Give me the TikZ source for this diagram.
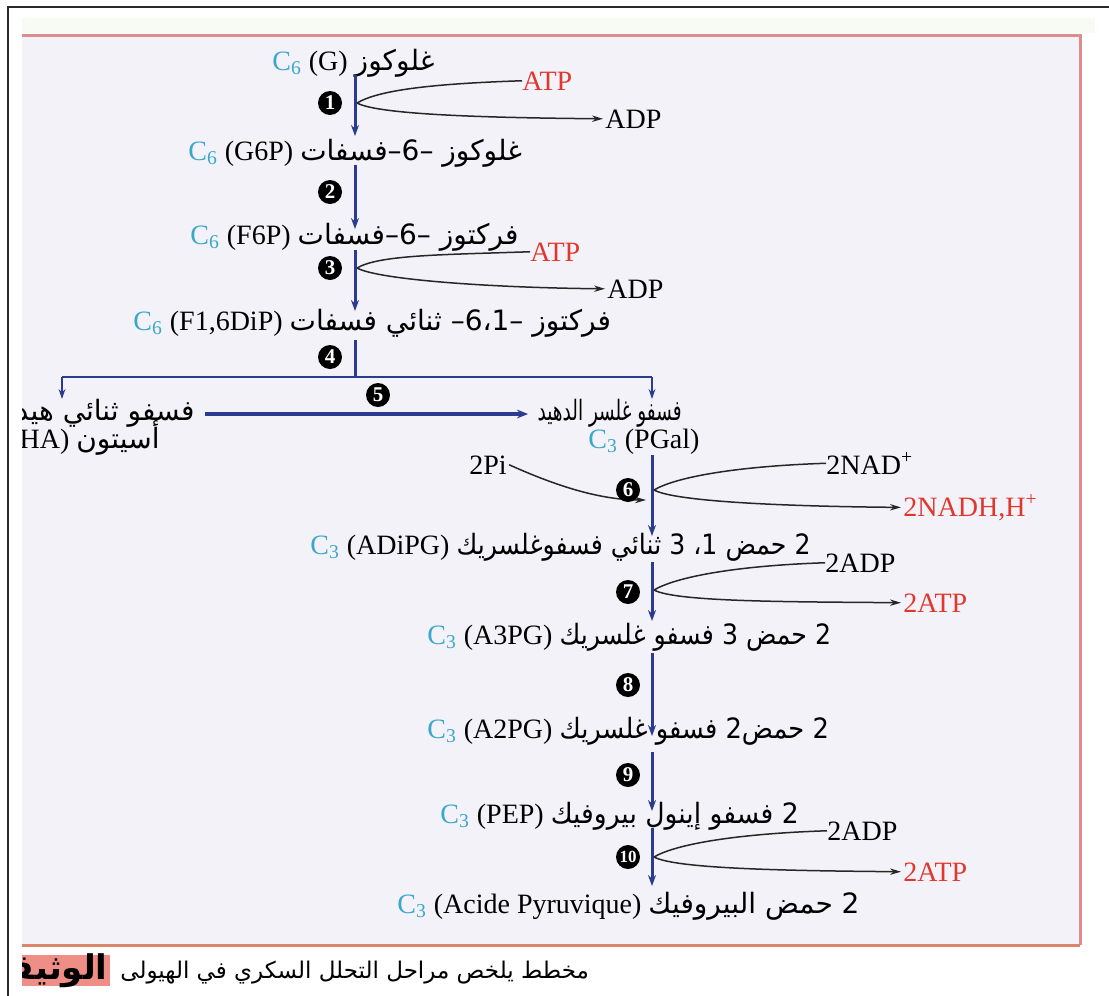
\documentclass[tikz,border=0pt]{standalone}
\usepackage{fontspec}
\usepackage{graphicx}
\setmainfont{Liberation Serif}
\newfontfamily\arabicfont[Script=Arabic]{DejaVu Sans}
\TeXXeTstate=1
\usetikzlibrary{arrows.meta}

\definecolor{panelbg}{HTML}{F3F2F8}
\definecolor{bandbg}{HTML}{F8FAF4}
\definecolor{edgerose}{HTML}{DE8E8A}
\definecolor{edgeorange}{HTML}{D9866A}
\definecolor{frameline}{HTML}{2A2A2A}
\definecolor{pathblue}{HTML}{2B3B8F}
\definecolor{carbcyan}{HTML}{3BA7CB}
\definecolor{energyred}{HTML}{E0372F}
\definecolor{capbox}{HTML}{EE8E86}

% Arabic run, optionally condensed horizontally
\newcommand{\artxt}[2][1]{\scalebox{#1}[1]{\arabicfont\fontsize{14}{16}\selectfont\beginR #2\endR}}
\newcommand{\carb}[1]{\textcolor{carbcyan}{C\textsubscript{#1}}}

\begin{document}
\begin{tikzpicture}[x=0.5pt,y=-0.5pt,
  txt/.style={inner sep=0pt, anchor=base west, font=\fontsize{14}{16}\selectfont},
  energy/.style={txt, text=energyred},
  stepno/.style={circle, fill=black, text=white, inner sep=0pt, minimum size=12pt,
                 font=\fontsize{10.5}{11}\selectfont\bfseries},
  flow/.style={draw=pathblue, line width=1.5pt, -{Stealth[length=5.5pt,width=4pt]}},
  flowline/.style={draw=pathblue, line width=1.5pt},
  branch/.style={draw=pathblue, line width=1pt, -{Stealth[length=5pt,width=3.4pt]}},
  sideline/.style={draw=black!85, line width=0.75pt},
  sidearrow/.style={sideline, -{Stealth[length=5.5pt,width=3.2pt]}},
]
\useasboundingbox (0,0) rectangle (1109,996);
\fill[white] (0,0) rectangle (1109,996);
\draw[frameline, line width=1pt] (8,996) -- (8,7) -- (1109,7);

\begin{scope}
\clip (22,0) rectangle (1109,996);
% panel
\fill[bandbg] (22,18) rectangle (1095,33);
\fill[panelbg] (0,35) rectangle (1080,945);
\draw[edgerose, line width=1.5pt] (0,35) -- (1080,35) -- (1080,945);
\draw[edgeorange, line width=1.5pt] (0,945) -- (1080,945);

% hexose stage
\node[txt] (glc) at (272,70) {\carb{6} (G) \artxt{غلوكوز}};
\node[txt] (g6p) at (188,160) {\carb{6} (G6P) \artxt{غلوكوز –6–فسفات}};
\node[txt] (f6p) at (190,244) {\carb{6} (F6P) \artxt{فركتوز –6–فسفات}};
\node[txt] (fbp) at (133,330) {\carb{6} (F1,6DiP) \artxt{فركتوز –6،1– ثنائي فسفات}};

\coordinate (s1a) at (355,75);  \coordinate (s1b) at (355,136);
\coordinate (s2a) at (355,165); \coordinate (s2b) at (355,229);
\coordinate (s3a) at (355,250); \coordinate (s3b) at (355,311);
\coordinate (s4a) at (355,340); \coordinate (split) at (355,377);
\coordinate (j1) at (357,103);
\coordinate (j3) at (357,268);

\node[energy] (atp1) at (522,90) {ATP};
\node[txt] (adp1) at (605,128) {ADP};
\node[energy] (atp3) at (530,261) {ATP};
\node[txt] (adp3) at (607,298) {ADP};

\draw[flow] (s1a) -- (s1b);
\draw[flow] (s2a) -- (s2b);
\draw[flow] (s3a) -- (s3b);
\draw[flowline] (s4a) -- (split);

\draw[sideline] (j1) .. controls +(22,-13) and +(-90,3) .. (atp1.west);
\draw[sidearrow] (j1) .. controls +(22,12) and +(-110,-1) .. ([xshift=-1pt]adp1.west);
\draw[sideline] (j3) .. controls +(22,-13) and +(-90,3) .. (atp3.west);
\draw[sidearrow] (j3) .. controls +(22,12) and +(-110,-1) .. ([xshift=-1pt]adp3.west);

% triose split
\node[txt, anchor=base east] (dhapname) at (195,420) {\artxt{فسفو ثنائي هيدروكسي}};
\node[txt, anchor=base east] (dhap) at (160,448) {\carb{3} (PDiHA) \artxt{أسيتون}};
\node[txt, anchor=base east] (pgalname) at (682,420) {\artxt[0.66]{فسفو غلسر الدهيد}};
\node[txt] (pgal) at (588,448) {\carb{3} (PGal)};

\coordinate (lbr) at (62,377);  \coordinate (lbe) at (62,399);
\coordinate (rbr) at (652,377); \coordinate (rbe) at (652,399);
\coordinate (t5a) at (205,414); \coordinate (t5b) at (528,414);
\draw[line width=1pt, pathblue] (lbr) -- (rbr);
\draw[branch] (lbr) -- (lbe);
\draw[branch] (rbr) -- (rbe);
\draw[draw=pathblue, line width=1.8pt, -{Stealth[length=5.5pt,width=4.4pt]}] (t5a) -- (t5b);

% triose stage
\node[txt] (adipg) at (310,554) {\carb{3} (ADiPG) \artxt[0.9]{2 حمض 1، 3 ثنائي فسفوغلسريك}};
\node[txt] (a3pg) at (427,644) {\carb{3} (A3PG) \artxt[0.9]{2 حمض 3 فسفو غلسريك}};
\node[txt] (a2pg) at (427,738) {\carb{3} (A2PG) \artxt[0.92]{2 حمض2 فسفو غلسريك}};
\node[txt] (pep) at (440,823) {\carb{3} (PEP) \artxt[0.95]{2 فسفو إينول بيروفيك}};
\node[txt] (pyr) at (397,913) {\carb{3} (Acide Pyruvique) \artxt{2 حمض البيروفيك}};

\coordinate (s6a) at (652,455); \coordinate (s6b) at (652,536);
\coordinate (s7a) at (652,562); \coordinate (s7b) at (652,621);
\coordinate (s8a) at (652,653); \coordinate (s8b) at (652,736);
\coordinate (s9a) at (652,752); \coordinate (s9b) at (652,811);
\coordinate (s10a) at (652,828); \coordinate (s10b) at (652,886);
\coordinate (j6) at (654,490);
\coordinate (j7) at (654,590);
\coordinate (j10) at (654,857);
\coordinate (pin) at (646,500);

\node[txt, anchor=base] (pi) at (488,474) {2Pi};
\node[txt] (nad) at (826,474) {2NAD\textsuperscript{+}};
\node[energy] (nadh) at (903,516) {2NADH,H\textsuperscript{+}};
\node[txt] (adp7) at (825,572) {2ADP};
\node[energy] (atp7) at (903,612) {2ATP};
\node[txt] (adp10) at (827,840) {2ADP};
\node[energy] (atp10) at (903,881) {2ATP};

\draw[flow] (s6a) -- (s6b);
\draw[flow] (s7a) -- (s7b);
\draw[flow] (s8a) -- (s8b);
\draw[flow] (s9a) -- (s9b);
\draw[flow] (s10a) -- (s10b);

\draw[sidearrow] ([xshift=1pt]pi.east) .. controls +(40,18) and +(-50,0) .. (pin);
\draw[sideline] (j6) .. controls +(22,-13) and +(-90,3) .. (nad.west);
\draw[sidearrow] (j6) .. controls +(22,12) and +(-110,-1) .. ([xshift=-1pt]nadh.west);
\draw[sideline] (j7) .. controls +(22,-13) and +(-90,3) .. (adp7.west);
\draw[sidearrow] (j7) .. controls +(22,12) and +(-110,-1) .. ([xshift=-1pt]atp7.west);
\draw[sideline] (j10) .. controls +(22,-13) and +(-90,3) .. (adp10.west);
\draw[sidearrow] (j10) .. controls +(22,12) and +(-110,-1) .. ([xshift=-1pt]atp10.west);

% step numbers
\node[stepno] (n1) at (330,103) {1};
\node[stepno] (n2) at (330,192) {2};
\node[stepno] (n3) at (330,268) {3};
\node[stepno] (n4) at (330,357) {4};
\node[stepno] (n5) at (378,395) {5};
\node[stepno] (n6) at (628,490) {6};
\node[stepno] (n7) at (628,592) {7};
\node[stepno] (n8) at (628,685) {8};
\node[stepno] (n9) at (628,775) {9};
\node[stepno, font=\fontsize{8.5}{9}\selectfont\bfseries] (n10) at (628,857) {10};

% caption
\fill[capbox] (0,955) rectangle (110,986);
\node[txt, anchor=base east] (doc) at (108,979)
  {{\arabicfont\bfseries\fontsize{17}{19}\selectfont\beginR الوثيقة\endR}};
\node[txt, anchor=base west] (caption) at (120,978)
  {{\arabicfont\fontsize{11.5}{14}\selectfont\beginR مخطط يلخص مراحل التحلل السكري في الهيولى\endR}};
\end{scope}
\end{tikzpicture}
\end{document}
